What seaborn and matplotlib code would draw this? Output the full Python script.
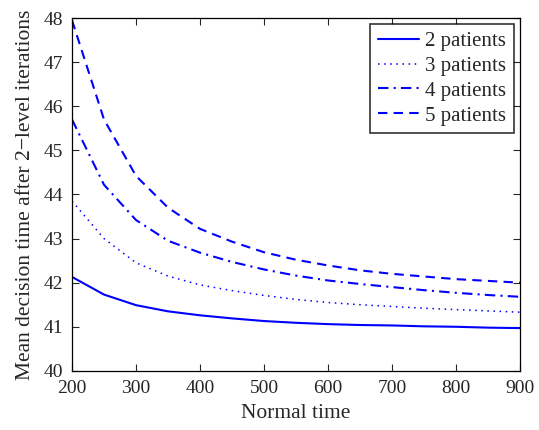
import numpy as np
import pandas as pd
import matplotlib
matplotlib.use("Agg")
import matplotlib.pyplot as plt
import seaborn as sns

# data
normal_time = [200, 250, 300, 350, 400, 450, 500, 550, 600, 650, 700, 750, 800, 850, 900]
p2 = [42.13, 41.73, 41.49, 41.35, 41.26, 41.19, 41.13, 41.09, 41.06, 41.04, 41.03, 41.01, 41.00, 40.98, 40.97]
p3 = [43.85, 43.00, 42.45, 42.15, 41.95, 41.82, 41.71, 41.62, 41.55, 41.50, 41.46, 41.42, 41.39, 41.36, 41.33]
p4 = [45.70, 44.22, 43.42, 42.95, 42.68, 42.47, 42.30, 42.16, 42.05, 41.97, 41.90, 41.83, 41.77, 41.72, 41.68]
p5 = [47.95, 45.70, 44.42, 43.70, 43.22, 42.93, 42.69, 42.52, 42.39, 42.28, 42.20, 42.14, 42.08, 42.04, 42.00]
labels = ["2 patients", "3 patients", "4 patients", "5 patients"]

df = pd.DataFrame({"Normal time": normal_time * 4,
                   "value": p2 + p3 + p4 + p5,
                   "series": np.repeat(labels, len(normal_time))})

sns.set_style("ticks")
plt.rcParams["font.family"] = ["Liberation Serif", "DejaVu Serif"]

fig = plt.figure(figsize=(5.39, 4.30), dpi=100)
ax = fig.add_axes([0.1336, 0.1375, 0.8312, 0.8205])

# matlab-like line styles
styles = {"2 patients": "-", "3 patients": (0, (1, 3)),
          "4 patients": (0, (5, 2.5, 1, 2.5)), "5 patients": (0, (4.5, 3))}
for lab in labels:
    sub = df[df["series"] == lab]
    sns.lineplot(data=sub, x="Normal time", y="value", ax=ax, color="#0000ff",
                 linestyle=styles[lab], linewidth=1.5 if lab != "3 patients" else 1.1,
                 label=lab)

ax.set_xlim(200, 900)
ax.set_ylim(40, 48)
ax.set_xticks(range(200, 901, 100))
ax.set_yticks(range(40, 49))
ax.set_xlabel("Normal time", fontsize=15.5, labelpad=5)
ax.set_ylabel("Mean decision time after 2\u2212level iterations", fontsize=15.5, labelpad=6)
ax.tick_params(direction="in", top=True, right=True, labelsize=14, length=5, width=0.8, pad=6.5)
for s in ax.spines.values():
    s.set_visible(True)
    s.set_linewidth(0.9)
    s.set_color("black")

leg = ax.legend(loc="upper right", fontsize=15, frameon=True, fancybox=False,
                edgecolor="black", handlelength=2.0, borderpad=0.35, labelspacing=0.25,
                handletextpad=0.3, borderaxespad=0.3)
leg.get_frame().set_linewidth(1.2)

fig.savefig("out.png", dpi=100)
